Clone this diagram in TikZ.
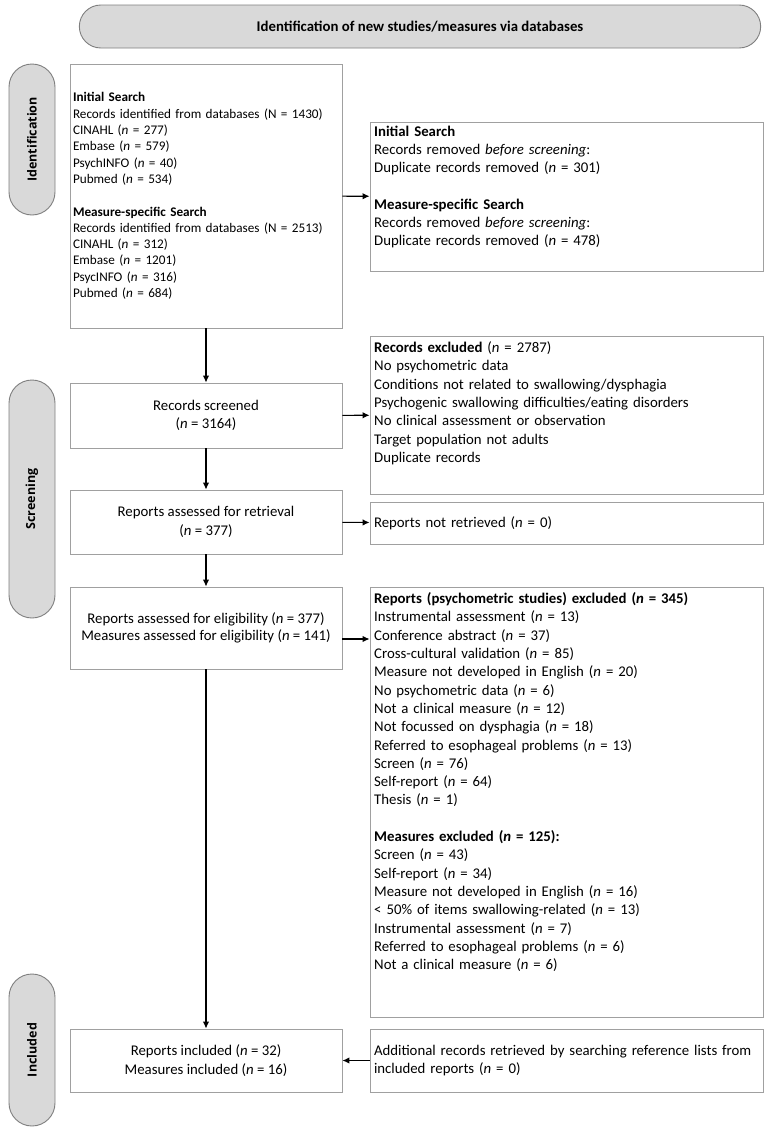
\documentclass[tikz,border=0pt]{standalone}
\usepackage{fontspec}
\setmainfont{Carlito}
\newfontfamily\phasefont{Open Sans}
\usetikzlibrary{arrows.meta,shapes.misc}
\definecolor{boxline}{HTML}{A0A0A0}
\definecolor{pillfill}{HTML}{D9D9D9}
\definecolor{pillline}{HTML}{7F7F7F}
\newcommand{\nn}{\textit{n}}
\tikzset{
  leftbox/.style={draw=boxline, line width=0.9pt, minimum width=272pt, inner sep=3pt,
    align=center, font=\fontsize{14.8}{18.3}\selectfont},
  rightbox/.style={draw=boxline, line width=0.9pt, minimum width=393pt, inner sep=0pt},
  boxtext/.style={inner sep=0pt, anchor=north west, align=left, text width=385pt,
    font=\fontsize{14.8}{18.3}\selectfont},
  phase/.style={rounded rectangle, draw=pillline, fill=pillfill, line width=0.9pt,
    rotate=90, minimum height=46pt, inner sep=0pt,
    font=\phasefont\bfseries\fontsize{12.5}{14}\selectfont},
  arr/.style={-{Latex[length=7pt,width=6.5pt]}, line width=1.1pt}
}
\begin{document}
\begin{tikzpicture}[x=1pt,y=-1pt]
\useasboundingbox (0,0) rectangle (769,1130);
% header and phases
\node[rounded rectangle, draw=pillline, fill=pillfill, line width=0.9pt,
  minimum width=688pt, minimum height=43pt, font=\bfseries\fontsize{14.8}{18}\selectfont]
  (head) at (420,26.5) {Identification of new studies/measures via databases};
\node[phase, minimum width=151pt] (idphase) at (32,139.5) {Identification};
\node[phase, minimum width=238pt] (scrphase) at (32,499) {Screening};
\node[phase, minimum width=152pt] (incphase) at (32,1050) {Included};
% left column
\node[leftbox, minimum height=264pt, align=left, text width=266pt,
  font=\fontsize{13.2}{16.3}\selectfont] (search) at (206,196)
  {\textbf{Initial Search}\\
   Records identified from databases (N = 1430)\\
   CINAHL (\nn{} = 277)\\
   Embase (\nn{} = 579)\\
   PsychINFO (\nn{} = 40)\\
   Pubmed (\nn{} = 534)\\[16.3pt]
   \textbf{Measure-specific Search}\\
   Records identified from databases (N = 2513)\\
   CINAHL (\nn{} = 312)\\
   Embase (\nn{} = 1201)\\
   PsycINFO (\nn{} = 316)\\
   Pubmed (\nn{} = 684)};
\node[leftbox, minimum height=65pt] (screened) at (206,415.5)
  {Records screened\\(\nn{} = 3164)};
\node[leftbox, minimum height=64pt] (retrieval) at (206,522)
  {Reports assessed for retrieval\\(\nn{} = 377)};
\node[leftbox, minimum height=82pt, font=\fontsize{14.8}{16.5}\selectfont] (elig) at (206,628)
  {Reports assessed for eligibility (\nn{} = 377)\\
   Measures assessed for eligibility (\nn{} = 141)};
\node[leftbox, minimum height=63pt] (incl) at (206,1060.5)
  {Reports included (\nn{} = 32)\\Measures included (\nn{} = 16)};
% right column
\node[rightbox, minimum height=149pt] (dup) at (566.5,196.5) {};
\node[boxtext] (duptext) at (374,125.5)
  {\textbf{Initial Search}\\
   Records removed \textit{before screening}:\\
   Duplicate records removed (\nn{} = 301)\\[18.3pt]
   \textbf{Measure-specific Search}\\
   Records removed \textit{before screening}:\\
   Duplicate records removed (\nn{} = 478)};
\node[rightbox, minimum height=158pt] (excl) at (566.5,415) {};
\node[boxtext] (excltext) at (374,341.5)
  {\textbf{Records excluded} (\nn{} = 2787)\\
   No psychometric data\\
   Conditions not related to swallowing/dysphagia\\
   Psychogenic swallowing difficulties/eating disorders\\
   No clinical assessment or observation\\
   Target population not adults\\
   Duplicate records};
\node[rightbox, minimum height=42pt, inner sep=4pt, align=left, text width=385pt,
  font=\fontsize{14.8}{18.3}\selectfont] (notret) at (566.5,523)
  {Reports not retrieved (\nn{} = 0)};
\node[rightbox, minimum height=430pt] (reject) at (566.5,802) {};
\node[boxtext] (rejecttext) at (374,592.5)
  {\textbf{Reports (psychometric studies) excluded (\nn{} = 345)}\\
   Instrumental assessment (\nn{} = 13)\\
   Conference abstract (\nn{} = 37)\\
   Cross-cultural validation (\nn{} = 85)\\
   Measure not developed in English (\nn{} = 20)\\
   No psychometric data (\nn{} = 6)\\
   Not a clinical measure (\nn{} = 12)\\
   Not focussed on dysphagia (\nn{} = 18)\\
   Referred to esophageal problems (\nn{} = 13)\\
   Screen (\nn{} = 76)\\
   Self-report (\nn{} = 64)\\
   Thesis (\nn{} = 1)\\[18.3pt]
   \textbf{Measures excluded (\nn{} = 125):}\\
   Screen (\nn{} = 43)\\
   Self-report (\nn{} = 34)\\
   Measure not developed in English (\nn{} = 16)\\
   < 50\% of items swallowing-related (\nn{} = 13)\\
   Instrumental assessment (\nn{} = 7)\\
   Referred to esophageal problems (\nn{} = 6)\\
   Not a clinical measure (\nn{} = 6)};
\node[rightbox, minimum height=63pt, inner sep=4pt, align=left, text width=385pt,
  font=\fontsize{14.8}{18.3}\selectfont] (addl) at (566.5,1060.5)
  {Additional records retrieved by searching reference lists from\\
   included reports (\nn{} = 0)};
% arrows
\draw[arr] (search) -- (dup);
\draw[arr] (search) -- (screened);
\draw[arr] (screened) -- (excl);
\draw[arr] (screened) -- (retrieval);
\draw[arr] (retrieval) -- (notret);
\draw[arr] (retrieval) -- (elig);
\draw[arr] ([yshift=-11pt]elig.east) -- ([yshift=-11pt]elig.east -| reject.west);
\draw[arr] (elig) -- (incl);
\draw[arr] (addl) -- (incl);
\end{tikzpicture}
\end{document}
